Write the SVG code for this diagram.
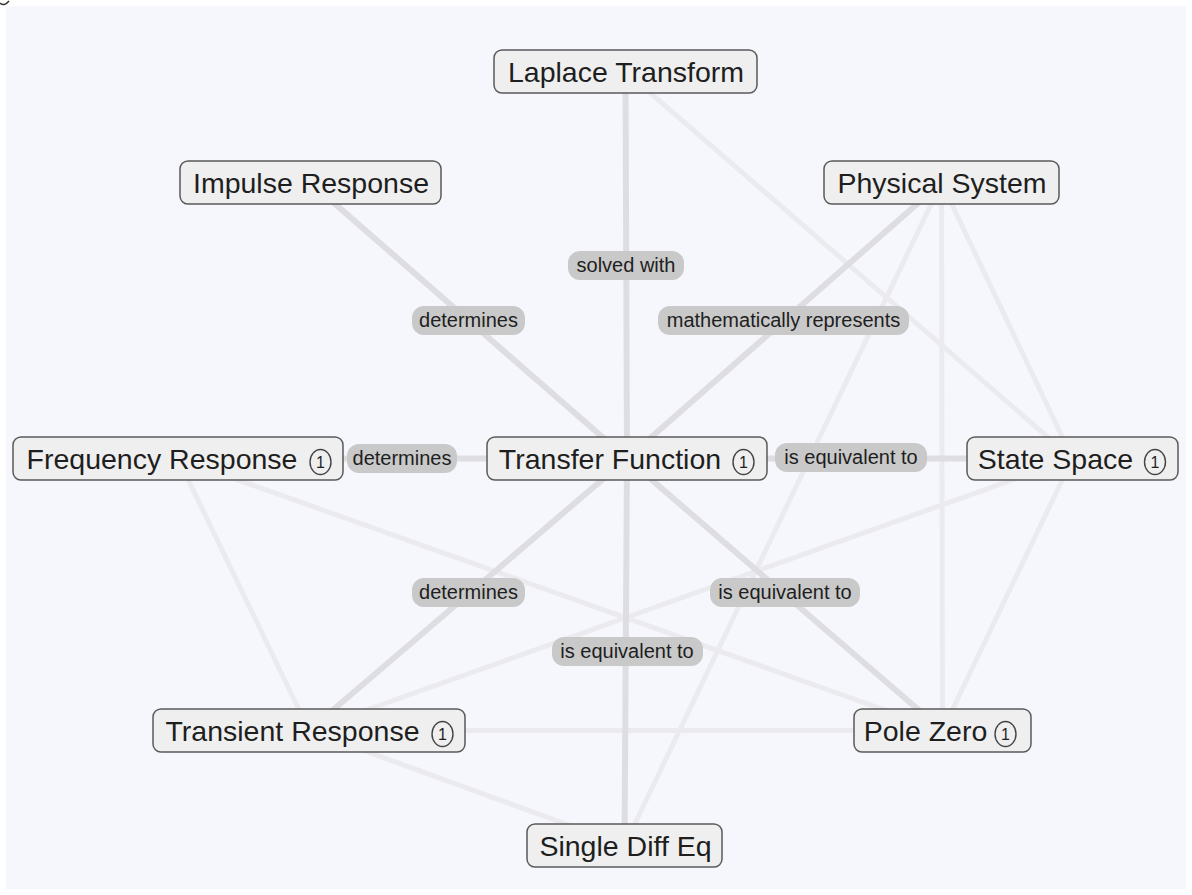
<svg xmlns="http://www.w3.org/2000/svg" width="1192" height="895" viewBox="0 0 1192 895">
<style>
.bg{fill:#f6f7fd}
.e{stroke:#ebebef;stroke-width:5;stroke-linecap:round;fill:none}
.el{stroke:#dedee2;stroke-width:6;stroke-linecap:round;fill:none}
.box{fill:#efefef;stroke:#5a5a5a;stroke-width:1.5}
.t{font-family:"Liberation Sans",Arial,sans-serif;font-size:28.5px;fill:#1e1e1e;text-anchor:middle}
.bd{fill:#efefef;stroke:#444;stroke-width:1.4}
.bt{font-family:"Liberation Sans",Arial,sans-serif;font-size:16px;fill:#1e1e1e;text-anchor:middle}
.pill{fill:#c9c9c9}
.lt{font-family:"Liberation Sans",Arial,sans-serif;font-size:20px;fill:#1e1e1e;text-anchor:middle}
</style>
<rect x="0" y="0" width="1192" height="895" fill="#ffffff"/>
<rect class="bg" x="6" y="6" width="1180" height="883"/>
<path d="M0,3 Q4,7 9,1" stroke="#333" stroke-width="1.5" fill="none"/>
<g id="connectors">
<line class="e" x1="625.5" y1="71.5" x2="1072.5" y2="458.5"/>
<line class="e" x1="941.5" y1="182.5" x2="1072.5" y2="458.5"/>
<line class="e" x1="941.5" y1="182.5" x2="942.5" y2="730.5"/>
<line class="e" x1="941.5" y1="182.5" x2="624.5" y2="845.5"/>
<line class="e" x1="1072.5" y1="458.5" x2="309" y2="730.5"/>
<line class="e" x1="1072.5" y1="458.5" x2="942.5" y2="730.5"/>
<line class="e" x1="178" y1="458.5" x2="942.5" y2="730.5"/>
<line class="e" x1="178" y1="458.5" x2="309" y2="730.5"/>
<line class="e" x1="309" y1="730.5" x2="942.5" y2="730.5"/>
<line class="e" x1="309" y1="730.5" x2="624.5" y2="845.5"/>
<line class="el" x1="625.5" y1="71.5" x2="627" y2="458.5"/>
<line class="el" x1="310.5" y1="182.5" x2="627" y2="458.5"/>
<line class="el" x1="941.5" y1="182.5" x2="627" y2="458.5"/>
<line class="el" x1="178" y1="458.5" x2="627" y2="458.5"/>
<line class="el" x1="627" y1="458.5" x2="1072.5" y2="458.5"/>
<line class="el" x1="627" y1="458.5" x2="309" y2="730.5"/>
<line class="el" x1="627" y1="458.5" x2="942.5" y2="730.5"/>
<line class="el" x1="627" y1="458.5" x2="624.5" y2="845.5"/>
<g id="labels">
<rect class="pill" x="568" y="251" width="116" height="29" rx="12"/>
<text class="lt" x="626" y="272">solved with</text>
<rect class="pill" x="412" y="306" width="113" height="29" rx="12"/>
<text class="lt" x="468.5" y="327">determines</text>
<rect class="pill" x="658" y="306" width="251" height="29" rx="12"/>
<text class="lt" x="783.5" y="327">mathematically represents</text>
<rect class="pill" x="347" y="444" width="110" height="29" rx="12"/>
<text class="lt" x="402" y="465">determines</text>
<rect class="pill" x="775" y="443" width="152" height="29" rx="12"/>
<text class="lt" x="851" y="464">is equivalent to</text>
<rect class="pill" x="412" y="578" width="113" height="29" rx="12"/>
<text class="lt" x="468.5" y="599">determines</text>
<rect class="pill" x="710" y="578" width="150" height="29" rx="12"/>
<text class="lt" x="785" y="599">is equivalent to</text>
<rect class="pill" x="552" y="637" width="151" height="29" rx="12"/>
<text class="lt" x="627" y="658">is equivalent to</text>
</g>
</g>
<g id="n-laplace">
<rect class="box" x="494" y="50" width="263" height="43" rx="8"/>
<text class="t" x="626" y="82">Laplace Transform</text>
</g>
<g id="n-impulse">
<rect class="box" x="180" y="161" width="261" height="43" rx="8"/>
<text class="t" x="311" y="193">Impulse Response</text>
</g>
<g id="n-physical">
<rect class="box" x="824" y="161" width="235" height="43" rx="8"/>
<text class="t" x="942" y="193">Physical System</text>
</g>
<g id="n-frequency">
<rect class="box" x="13" y="437" width="330" height="43" rx="8"/>
<text class="t" x="162" y="469">Frequency Response</text>
<ellipse class="bd" cx="320.5" cy="462" rx="10.5" ry="12.5"/>
<text class="bt" x="320.5" y="467.5">1</text>
</g>
<g id="n-transfer">
<rect class="box" x="487" y="437" width="280" height="43" rx="8"/>
<text class="t" x="610" y="469">Transfer Function</text>
<ellipse class="bd" cx="743.5" cy="462" rx="10.5" ry="12.5"/>
<text class="bt" x="743.5" y="467.5">1</text>
</g>
<g id="n-state">
<rect class="box" x="967" y="437" width="211" height="43" rx="8"/>
<text class="t" x="1055.5" y="469">State Space</text>
<ellipse class="bd" cx="1155" cy="462" rx="10.5" ry="12.5"/>
<text class="bt" x="1155" y="467.5">1</text>
</g>
<g id="n-transient">
<rect class="box" x="153" y="709" width="312" height="43" rx="8"/>
<text class="t" x="292.5" y="741">Transient Response</text>
<ellipse class="bd" cx="442.5" cy="734" rx="10.5" ry="12.5"/>
<text class="bt" x="442.5" y="739.5">1</text>
</g>
<g id="n-polezero">
<rect class="box" x="854" y="709" width="177" height="43" rx="8"/>
<text class="t" x="925.5" y="741">Pole Zero</text>
<ellipse class="bd" cx="1005.5" cy="734" rx="10.5" ry="12.5"/>
<text class="bt" x="1005.5" y="739.5">1</text>
</g>
<g id="n-singlediff">
<rect class="box" x="527" y="824" width="195" height="43" rx="8"/>
<text class="t" x="625.5" y="856">Single Diff Eq</text>
</g>
</svg>
